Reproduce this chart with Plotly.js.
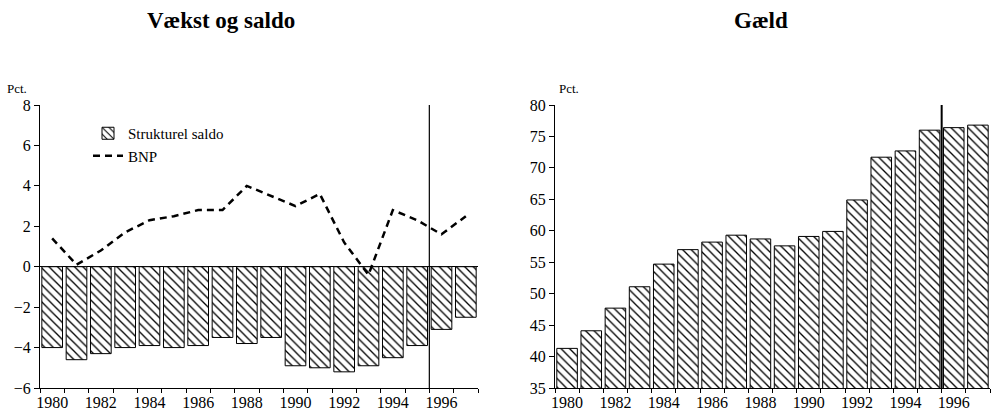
<!DOCTYPE html>
<html>
<head>
<meta charset="utf-8">
<script src="https://cdn.plot.ly/plotly-3.0.1.min.js"></script>
<style>html,body{margin:0;padding:0;background:#fff;}#chart{width:995px;height:413px;}</style>
</head>
<body>
<div id="chart"></div>
<script>
const years = [1980,1981,1982,1983,1984,1985,1986,1987,1988,1989,1990,1991,1992,1993,1994,1995,1996,1997];
const saldo = [-4.0,-4.6,-4.3,-4.0,-3.9,-4.0,-3.9,-3.5,-3.8,-3.5,-4.9,-5.0,-5.2,-4.9,-4.5,-3.9,-3.1,-2.5];
const bnp = [1.4,0.1,0.8,1.7,2.3,2.5,2.8,2.8,4.0,3.5,3.0,3.6,1.2,-0.4,2.8,2.3,1.6,2.5];
const gaeld = [41.3,44.1,47.7,51.1,54.7,57.0,58.2,59.3,58.7,57.6,59.1,59.9,64.9,71.7,72.7,76.0,76.4,76.8];
const xTicks = [1980,1982,1984,1986,1988,1990,1992,1994,1996];
const leftYTicks = [-6,-4,-2,0,2,4,6,8];
const rightYTicks = [35,40,45,50,55,60,65,70,75,80];
const labels = {left: 'Vækst og saldo', right: 'Gæld', unit: 'Pct.', saldo: 'Strukturel saldo', bnp: 'BNP'};

const serif = 'Liberation Serif';
const hatch = {shape: '\\', size: 6, solidity: 0.22, fgcolor: '#000', bgcolor: '#fff'};

const traces = [
  {type: 'bar', x: years, y: saldo, name: labels.saldo, xaxis: 'x', yaxis: 'y',
   marker: {color: '#fff', pattern: hatch, line: {color: '#000', width: 1}}},
  {type: 'scatter', mode: 'lines', x: years, y: bnp, name: labels.bnp, xaxis: 'x', yaxis: 'y',
   line: {color: '#000', width: 2.5, dash: '7px,5px'}},
  {type: 'bar', x: years, y: gaeld, name: 'Gæld', xaxis: 'x2', yaxis: 'y2', showlegend: false,
   marker: {color: '#fff', pattern: hatch, line: {color: '#000', width: 1}}}
];

const H = 413, W = 995;
const yDom = [(H - 388) / H, (H - 105) / H];
const tickFont = {family: serif, size: 16, color: '#000'};
const xCommon = {
  range: [1979.5, 1997.5], tickmode: 'array', tickvals: xTicks, ticktext: xTicks.map(String),
  ticks: '', showgrid: false, zeroline: false, showline: true, linecolor: '#000', linewidth: 1,
  tickfont: tickFont,
  minor: {tick0: 1979.5, dtick: 1, ticks: 'outside', ticklen: 4, tickcolor: '#000', showgrid: false}
};

const layout = {
  width: W, height: H, autosize: false,
  margin: {l: 0, r: 0, t: 0, b: 0},
  paper_bgcolor: '#fff', plot_bgcolor: '#fff',
  font: {family: serif, size: 14, color: '#000'},
  bargap: 0.15,
  showlegend: true,
  legend: {x: 88 / W, y: (H - 117) / H, xanchor: 'left', yanchor: 'top',
           bgcolor: 'rgba(0,0,0,0)', font: {family: serif, size: 15, color: '#000'},
           tracegroupgap: 0, itemwidth: 30},
  xaxis: Object.assign({}, xCommon, {domain: [40 / W, 478 / W], anchor: 'y'}),
  yaxis: {domain: yDom, range: [-6, 8], tickmode: 'array', tickvals: leftYTicks,
          ticks: 'outside', ticklen: 5, tickcolor: '#000', showgrid: false,
          zeroline: true, zerolinecolor: '#000', zerolinewidth: 1,
          showline: true, linecolor: '#000', linewidth: 1, anchor: 'x',
          tickfont: tickFont},
  xaxis2: Object.assign({}, xCommon, {domain: [555 / W, 990 / W], anchor: 'y2'}),
  yaxis2: {domain: yDom, range: [35, 80], tickmode: 'array', tickvals: rightYTicks,
           ticks: 'outside', ticklen: 5, tickcolor: '#000', showgrid: false, zeroline: false,
           showline: true, linecolor: '#000', linewidth: 1, anchor: 'x2',
           tickfont: tickFont},
  shapes: [
    {type: 'line', xref: 'x', yref: 'y', x0: 1995.5, x1: 1995.5, y0: -6, y1: 8,
     line: {color: '#000', width: 1.2}, layer: 'above'},
    {type: 'line', xref: 'x2', yref: 'y2', x0: 1995.5, x1: 1995.5, y0: 35, y1: 80,
     line: {color: '#000', width: 2}, layer: 'above'}
  ],
  annotations: [
    {text: '<b>' + labels.left + '</b>', xref: 'paper', yref: 'paper', x: 221 / W, y: (H - 21) / H,
     xanchor: 'center', yanchor: 'middle', showarrow: false, font: {family: serif, size: 23, color: '#000'}},
    {text: '<b>' + labels.right + '</b>', xref: 'paper', yref: 'paper', x: 761 / W, y: (H - 21) / H,
     xanchor: 'center', yanchor: 'middle', showarrow: false, font: {family: serif, size: 23, color: '#000'}},
    {text: labels.unit, xref: 'paper', yref: 'paper', x: 5 / W, y: (H - 88) / H,
     xanchor: 'left', yanchor: 'middle', showarrow: false, font: {family: serif, size: 13, color: '#000'}},
    {text: labels.unit, xref: 'paper', yref: 'paper', x: 557 / W, y: (H - 88) / H,
     xanchor: 'left', yanchor: 'middle', showarrow: false, font: {family: serif, size: 13, color: '#000'}}
  ]
};

Plotly.newPlot('chart', traces, layout, {displayModeBar: false, staticPlot: true});
</script>
</body>
</html>
